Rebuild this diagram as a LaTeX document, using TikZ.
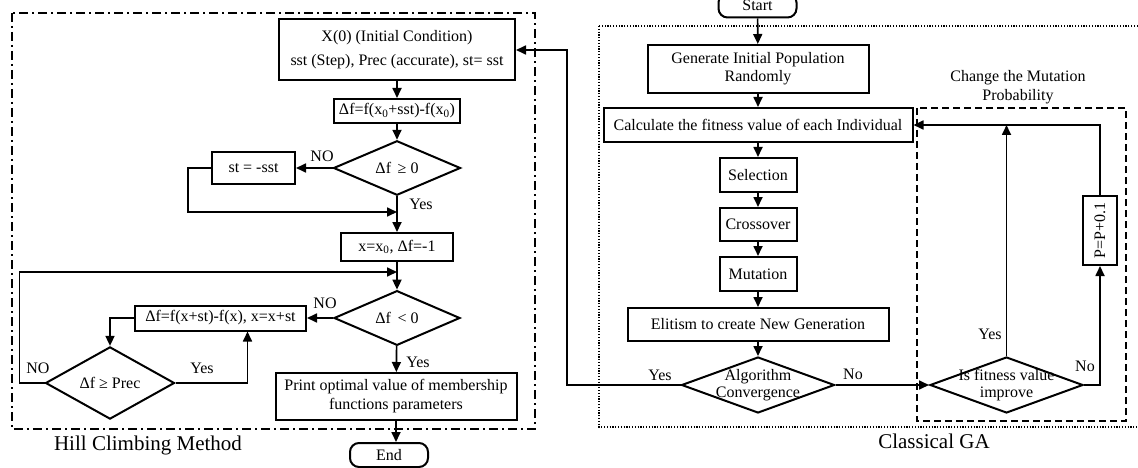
\documentclass[tikz,border=0pt]{standalone}
\usepackage{fontspec}
\setmainfont{Liberation Serif}
\usetikzlibrary{arrows.meta,shapes.geometric,positioning,calc}

\begin{document}
\begin{tikzpicture}[
    x=1pt, y=-1pt,
    >={Triangle[length=10pt,width=9pt]},
    every node/.style={font=\fontsize{16}{19}\selectfont},
    box/.style={rectangle, draw, line width=2pt, align=center, inner sep=2pt},
    term/.style={box, rounded corners=9pt, minimum width=78pt, minimum height=24pt},
    decision/.style={diamond, draw, line width=2pt, align=center, inner sep=0pt},
    dlabel/.style={align=center, inner sep=0pt, font=\fontsize{16}{17}\selectfont},
    lbl/.style={inner sep=1pt},
    caption/.style={inner sep=1pt, font=\fontsize{21}{25}\selectfont},
    arr/.style={->, line width=1.7pt},
    hcframe/.style={line width=1.8pt, dash pattern=on 9pt off 4pt on 2pt off 4pt},
    gaframe/.style={line width=1.1pt, dash pattern=on 1.2pt off 1.6pt},
    mpframe/.style={line width=1.8pt, dash pattern=on 7pt off 4pt}
  ]
  \useasboundingbox (0,0) rectangle (1138,468);

  % frames
  \draw[hcframe] (12,13) rectangle (535,429);
  \draw[gaframe] (599,26) rectangle (1145,427);
  \draw[mpframe] (917,108) rectangle (1126,421);

  % hill climbing
  \node[box, minimum width=236pt, minimum height=61pt, font=\fontsize{16}{24}\selectfont] (init) at (397,50)
    {X(0) (Initial Condition)\\sst (Step), Prec (accurate), st= sst};
  \node[box, minimum width=126pt, minimum height=24pt, inner sep=1pt] (delta0) at (397,111)
    {Δf=f(x\textsubscript{0}+sst)-f(x\textsubscript{0})};
  \node[decision, minimum width=127pt, minimum height=48pt] (dia1) at (397,168) {Δf \,≥ 0};
  \node[box, minimum width=83pt, minimum height=31pt] (stneg) at (253.5,168) {st = -sst};
  \node[box, minimum width=112pt, minimum height=28pt] (xinit) at (397,247)
    {x=x\textsubscript{0}, Δf=-1};
  \node[decision, minimum width=126pt, minimum height=53pt] (dia2) at (397,318) {Δf \,< 0};
  \node[box, minimum width=171pt, minimum height=25pt] (update) at (220.5,318)
    {Δf=f(x+st)-f(x), x=x+st};
  \node[decision, minimum width=129pt, minimum height=53pt] (dia3) at (110,383) {Δf ≥ Prec};
  \node[box, minimum width=241pt, minimum height=47pt] (print) at (396,396.5)
    {Print optimal value of membership\\functions parameters};
  \node[term] (end) at (389,455) {End};

  \coordinate (j1) at (397,212);
  \coordinate (j2) at (397,272);

  \draw[arr] (init) -- (delta0);
  \draw[arr] (delta0) -- (dia1);
  \draw[arr] (dia1) -- (stneg);
  \draw[arr] (dia1) -- (xinit);
  \draw[arr] (stneg.west) -- ++(-23,0) |- (j1);
  \draw[arr] (xinit) -- (dia2);
  \draw[arr] (dia2) -- (update);
  \draw[arr] (update.west) -| (dia3.north);
  \draw[arr] (dia3.east) -| ([xshift=27pt]update.south);
  \draw[arr] (dia3.west) -- ++(-25,0) |- (j2);
  \draw[arr] (dia2) -- (print);
  \draw[arr] (print.south) -- (print.south |- end.north);

  \node[lbl] (no1) at (322,156) {NO};
  \node[lbl] (yes1) at (421,204) {Yes};
  \node[lbl] (no2) at (325,303) {NO};
  \node[lbl] (yes2) at (418,362) {Yes};
  \node[lbl] (no3) at (38,368) {NO};
  \node[lbl] (yes3) at (202,368) {Yes};
  \node[caption] (hcm) at (148,445) {Hill Climbing Method};

  % classical GA
  \node[term] (start) at (757.5,5.5) {Start};
  \node[box, minimum width=221pt, minimum height=48pt, font=\fontsize{16}{18}\selectfont] (gen) at (758,69)
    {Generate Initial Population\\Randomly};
  \node[box, minimum width=309pt, minimum height=34pt] (calc) at (758,125)
    {Calculate the fitness value of each Individual};
  \node[box, minimum width=77pt, minimum height=34pt] (sel) at (758,175) {Selection};
  \node[box, minimum width=77pt, minimum height=33pt] (cross) at (758,224.5) {Crossover};
  \node[box, minimum width=77pt, minimum height=34pt] (mut) at (758,274) {Mutation};
  \node[box, minimum width=261pt, minimum height=33pt] (elit) at (758,324.5)
    {Elitism to create New Generation};
  \node[decision, minimum width=153pt, minimum height=56pt,
        label={[dlabel]center:Algorithm\\Convergence}] (conv) at (758,385) {};
  \node[decision, minimum width=153pt, minimum height=56pt,
        label={[dlabel]center:Is fitness value\\improve}] (imp) at (1006.5,385) {};
  \node[box, rotate=90, minimum width=69pt, minimum height=34pt] (pbox) at (1100,230.5) {P=P+0.1};

  \coordinate (gaback) at (567,0);

  \draw[arr] (start) -- (gen);
  \draw[arr] (gen) -- (calc);
  \draw[arr] (calc) -- (sel);
  \draw[arr] (sel) -- (cross);
  \draw[arr] (cross) -- (mut);
  \draw[arr] (mut) -- (elit);
  \draw[arr] (elit) -- (conv);
  \draw[arr] (conv.west) -- (conv.west -| gaback) |- (init.east);
  \draw[arr] (conv) -- (imp);
  \draw[arr] (imp) -- (imp.north |- calc.east);
  \draw[arr] (imp.east) -| (pbox.west);
  \draw[arr] (pbox.east) |- (calc.east);

  \node[lbl] (yes4) at (660,375) {Yes};
  \node[lbl] (no4) at (853,374) {No};
  \node[lbl] (yes5) at (990,334) {Yes};
  \node[lbl] (no5) at (1085,366) {No};
  \node[lbl, align=center, font=\fontsize{16}{19}\selectfont] (chg) at (1018,87)
    {Change the Mutation\\Probability};
  \node[caption] (cga) at (934,441) {Classical GA};
\end{tikzpicture}
\end{document}
